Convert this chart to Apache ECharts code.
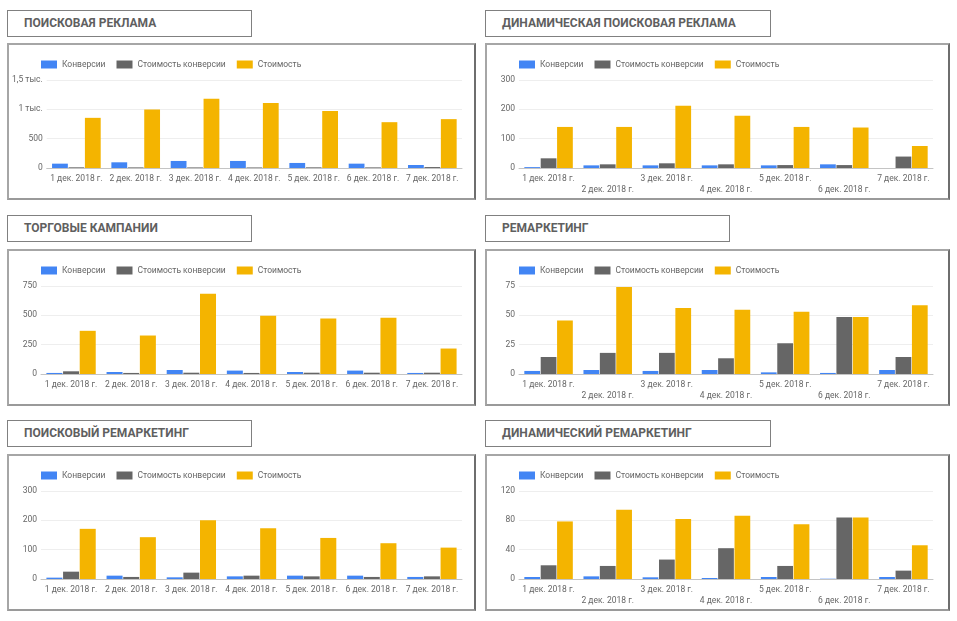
<!DOCTYPE html>
<html>
<head>
<meta charset="utf-8">
<script src="https://cdn.jsdelivr.net/npm/echarts@6/dist/echarts.min.js"></script>
<style>
  html, body { margin:0; padding:0; background:#fff; width:957px; height:621px; overflow:hidden; font-family: Roboto, "Noto Sans", sans-serif; }
  .title { position:absolute; box-sizing:border-box; height:27px; border:1.5px solid #808080; color:#5f5f5f; font-weight:bold; font-size:12px; line-height:24px; padding-left:16px; font-family: Roboto, sans-serif; letter-spacing:0px; }
  .box { position:absolute; box-sizing:border-box; height:157px; border:2px solid #a6a6a6; border-right-color:#6e6e6e; border-bottom-color:#9a9a9a; }
  .chart { position:absolute; left:0; top:0; width:100%; height:100%; }
</style>
</head>
<body>
<script>
// ---- data ----
const categories = ['1 дек. 2018 г.', '2 дек. 2018 г.', '3 дек. 2018 г.', '4 дек. 2018 г.', '5 дек. 2018 г.', '6 дек. 2018 г.', '7 дек. 2018 г.'];
const seriesNames = ['Конверсии', 'Стоимость конверсии', 'Стоимость'];

const titles = ['ПОИСКОВАЯ РЕКЛАМА', 'ДИНАМИЧЕСКАЯ ПОИСКОВАЯ РЕКЛАМА', 'ТОРГОВЫЕ КАМПАНИИ', 'РЕМАРКЕТИНГ', 'ПОИСКОВЫЙ РЕМАРКЕТИНГ', 'ДИНАМИЧЕСКИЙ РЕМАРКЕТИНГ'];

// Поисковая реклама
const searchConv = [74, 97, 120, 120, 86, 74, 51];
const searchCPA  = [11.5, 10.3, 9.8, 9.3, 11.3, 10.5, 16.3];
const searchCost = [855, 998, 1180, 1106, 970, 781, 833];
const searchTicks = ['0', '500', '1 тыс.', '1,5 тыс.'];

// Динамическая поисковая реклама
const dsaConv = [3, 9, 9, 9, 9, 12.5, 0];
const dsaCPA  = [33, 12.5, 16, 12.5, 10, 10, 39];
const dsaCost = [140, 140, 212, 178, 140, 138, 75];
const dsaTicks = ['0', '100', '200', '300'];

// Торговые кампании
const shopConv = [9, 17, 34, 29, 17, 29, 9];
const shopCPA  = [23, 9, 11, 9, 11, 11, 11];
const shopCost = [368, 328, 684, 496, 473, 479, 217];
const shopTicks = ['0', '250', '500', '750'];

// Ремаркетинг
const rmkConv = [2.6, 3.4, 2.6, 3.4, 1.4, 0.9, 3.4];
const rmkCPA  = [14.5, 18, 18, 13.4, 26.2, 48.5, 14.5];
const rmkCost = [45.6, 74.1, 56.2, 54.7, 53, 48.5, 58.7];
const rmkTicks = ['0', '25', '50', '75'];

// Поисковый ремаркетинг
const rlsaConv = [4.6, 11.4, 5.7, 9, 11.4, 11.4, 7];
const rlsaCPA  = [25, 7, 21.7, 11.4, 9, 7, 9];
const rlsaCost = [171, 142.6, 200.7, 173, 140, 122, 107];
const rlsaTicks = ['0', '100', '200', '300'];

// Динамический ремаркетинг
const dynConv = [2.7, 3.6, 2.3, 1.4, 2.7, 0.4, 2.7];
const dynCPA  = [18.7, 17.8, 26.5, 42, 17.8, 84, 11.4];
const dynCost = [78.5, 94.4, 81.7, 86.2, 74.8, 84, 46];
const dynTicks = ['0', '40', '80', '120'];

const colors = ['#4285f4', '#666666', '#f4b400'];

// ---- layout ----
const panels = [
  { title: titles[0], tx: 7,   ty: 10,  tw: 245, bx: 7,   by: 43,  bw: 469, data: [searchConv, searchCPA, searchCost], ticks: searchTicks, max: 1500, step: 500, stagger: false, right: 12 },
  { title: titles[1], tx: 485, ty: 10,  tw: 286, bx: 485, by: 43,  bw: 465, data: [dsaConv, dsaCPA, dsaCost], ticks: dsaTicks, max: 300, step: 100, stagger: true, right: 15 },
  { title: titles[2], tx: 7,   ty: 215, tw: 245, bx: 7,   by: 249, bw: 469, data: [shopConv, shopCPA, shopCost], ticks: shopTicks, max: 750, step: 250, stagger: false, right: 12 },
  { title: titles[3], tx: 485, ty: 215, tw: 245, bx: 485, by: 249, bw: 465, data: [rmkConv, rmkCPA, rmkCost], ticks: rmkTicks, max: 75, step: 25, stagger: true, right: 15 },
  { title: titles[4], tx: 7,   ty: 420, tw: 245, bx: 7,   by: 454, bw: 469, data: [rlsaConv, rlsaCPA, rlsaCost], ticks: rlsaTicks, max: 300, step: 100, stagger: false, right: 12 },
  { title: titles[5], tx: 485, ty: 420, tw: 286, bx: 485, by: 454, bw: 465, data: [dynConv, dynCPA, dynCost], ticks: dynTicks, max: 120, step: 40, stagger: true, right: 15 }
];

panels.forEach(function (p) {
  const t = document.createElement('div');
  t.className = 'title';
  t.style.left = p.tx + 'px'; t.style.top = p.ty + 'px'; t.style.width = p.tw + 'px';
  t.textContent = p.title;
  document.body.appendChild(t);

  const b = document.createElement('div');
  b.className = 'box';
  b.style.left = p.bx + 'px'; b.style.top = p.by + 'px'; b.style.width = p.bw + 'px';
  const c = document.createElement('div');
  c.className = 'chart';
  b.appendChild(c);
  document.body.appendChild(b);

  const chart = echarts.init(c, null, { renderer: 'canvas' });
  chart.setOption({
    animation: false,
    textStyle: { fontFamily: 'Roboto, sans-serif' },
    legend: {
      left: 32, top: 15, padding: 0, itemWidth: 16, itemHeight: 8, itemGap: 11,
      icon: 'rect',
      textStyle: { fontSize: 8.5, color: '#666', fontFamily: 'Roboto, sans-serif' },
      data: seriesNames
    },
    grid: { left: 32, right: p.right, top: 35, height: 88 },
    xAxis: {
      type: 'category', data: categories,
      axisLine: { show: true, lineStyle: { color: '#c4c4c4', width: 1 } },
      axisTick: { show: false },
      axisLabel: {
        interval: 0, fontSize: 8.5, color: '#666', margin: 5, lineHeight: 11,
        formatter: function (v, i) { return (p.stagger && i % 2 === 1) ? '\n' + v : v; }
      }
    },
    yAxis: {
      type: 'value', min: 0, max: p.max, interval: p.step,
      axisLine: { show: false }, axisTick: { show: false },
      splitLine: { lineStyle: { color: '#eeeeee', width: 1 } },
      axisLabel: {
        fontSize: 8.5, color: '#666', margin: 4,
        formatter: function (v) { return p.ticks[Math.round(v / p.step)]; }
      }
    },
    series: seriesNames.map(function (n, i) {
      return {
        name: n, type: 'bar', data: p.data[i],
        itemStyle: { color: colors[i] },
        barCategoryGap: '18%', barGap: '4%'
      };
    })
  });
});
</script>
</body>
</html>
